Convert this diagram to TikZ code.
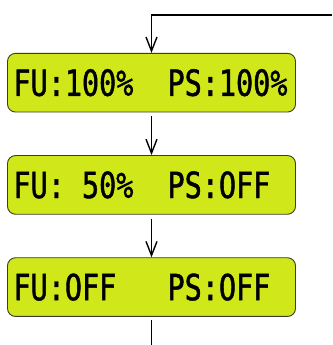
\documentclass[tikz,border=0pt]{standalone}
\usepackage{fontspec}
\usetikzlibrary{arrows.meta, positioning}
\newfontfamily\lcdfont[FakeStretch=0.79, FakeBold=1.2]{DejaVu Sans Mono}
\definecolor{lcdgreen}{RGB}{208,232,26}
\definecolor{lcdedge}{RGB}{60,60,45}
\newcommand{\lcdgap}{\phantom{0}}

\begin{document}
\begin{tikzpicture}[
            x=1pt, y=1pt,
            lcdbox/.style={draw=lcdedge, line width=0.9pt, rounded corners=8pt, fill=lcdgreen,
                minimum height=58.7pt, text width=276pt, inner xsep=6pt, align=left,
                font=\lcdfont\fontsize{36}{36}\selectfont},
            flow/.style={-{Straight Barb[length=14pt, width=11pt]}, line width=1.4pt},
            plain/.style={line width=1.4pt},
        ]
            \useasboundingbox (0,0) rectangle (332,345);

            % Display states
            \node[lcdbox] (full) at (151.5,262.3) {FU:100\%\lcdgap\lcdgap PS:100\%};
            \node[lcdbox, below=42.6pt of full] (half) {FU:\lcdgap 50\%\lcdgap\lcdgap PS:OFF};
            \node[lcdbox, below=42.6pt of half] (off) {FU:OFF\lcdgap\lcdgap\lcdgap PS:OFF};

            % Loop in and out
            \coordinate (loopin) at (332,330);
            \coordinate (loopout) at (151.5,0);
            \draw[flow] (loopin) -| (full.north);

            % Steps
            \draw[flow] ([yshift=-4pt]full.south) -- (half.north);
            \draw[flow] ([yshift=-4pt]half.south) -- (off.north);
            \draw[plain] ([yshift=-3pt]off.south) -- (loopout);
        \end{tikzpicture}
\end{document}
